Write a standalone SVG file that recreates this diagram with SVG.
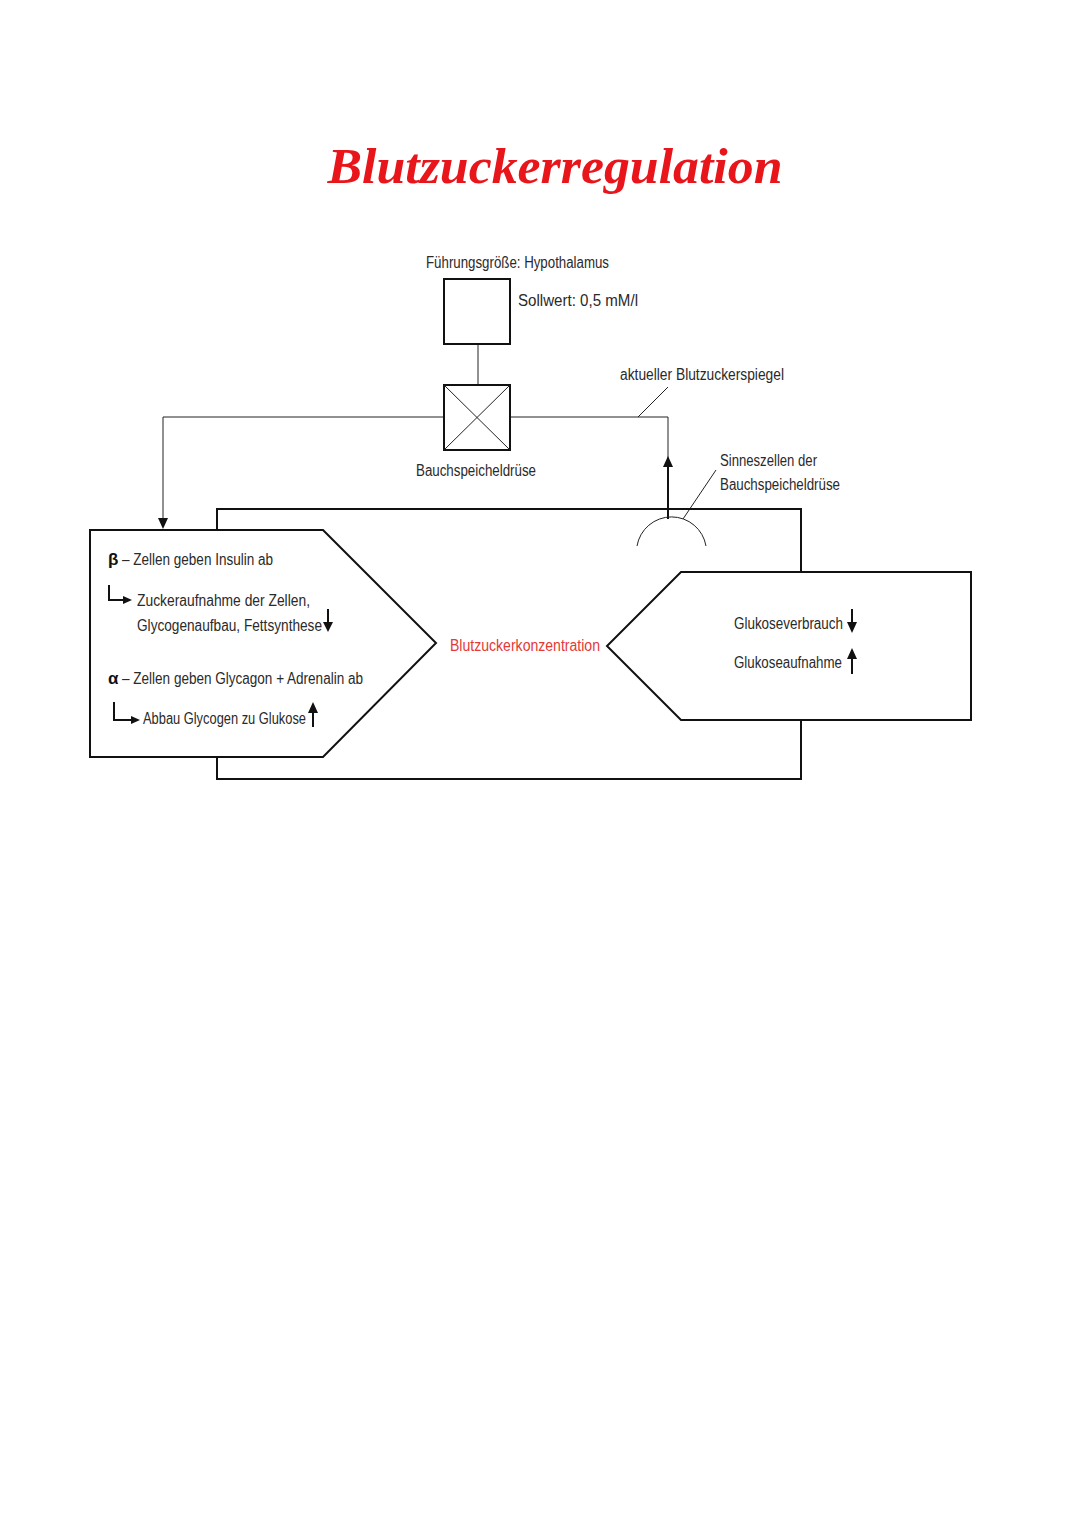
<svg xmlns="http://www.w3.org/2000/svg" width="1080" height="1527" viewBox="0 0 1080 1527">
<style>
.t{font-family:"Liberation Sans","DejaVu Sans",sans-serif;font-size:16px;fill:#2a2a2a}
.g{font-family:"Liberation Sans","DejaVu Sans",sans-serif;font-weight:bold;font-size:17px;fill:#111}
.r{font-family:"Liberation Sans","DejaVu Sans",sans-serif;font-size:16px;fill:#e53935}
.title{font-family:"Liberation Serif","DejaVu Serif",serif;font-size:50px;font-weight:bold;font-style:italic;fill:#e8151b}
.s{fill:none;stroke:#111;stroke-width:2}
.th{fill:none;stroke:#222;stroke-width:1}
.a{fill:none;stroke:#111;stroke-width:2}
</style>
<rect width="1080" height="1527" fill="#fff"/>
<text class="title" x="555" y="183" text-anchor="middle" textLength="455" lengthAdjust="spacingAndGlyphs">Blutzuckerregulation</text>

<g id="connectors">
<line class="th" x1="478" y1="344" x2="478" y2="385"/>
<polyline class="th" points="444,417 163,417 163,520"/>
<path d="M158,518 L163,529 L168,518 z" fill="#111"/>
<polyline class="th" points="510,417 668,417 668,466"/>
<line x1="668" y1="466" x2="668" y2="519" stroke="#111" stroke-width="2"/>
<path d="M663,467 L668,456 L673,467 z" fill="#111"/>
<line class="th" x1="638" y1="417" x2="668" y2="387"/>
<line class="th" x1="683" y1="519" x2="716" y2="470"/>
<polyline class="s" points="217,530 217,509 801,509 801,572"/>
<polyline class="s" points="217,757 217,779 801,779 801,720"/>
</g>

<g id="hypothalamus">
<rect class="s" x="444" y="279" width="66" height="65"/>
<text class="t" x="426" y="268" textLength="183" lengthAdjust="spacingAndGlyphs">Führungsgröße: Hypothalamus</text>
<text class="t" x="518" y="306" textLength="120" lengthAdjust="spacingAndGlyphs">Sollwert: 0,5 mM/l</text>
</g>

<g id="bauchspeicheldruese">
<rect class="s" x="444" y="385" width="66" height="65"/>
<line class="th" x1="444" y1="385" x2="510" y2="450"/>
<line class="th" x1="510" y1="385" x2="444" y2="450"/>
<text class="t" x="416" y="476" textLength="120" lengthAdjust="spacingAndGlyphs">Bauchspeicheldrüse</text>
</g>

<g id="aktuell">
<text class="t" x="620" y="380" textLength="164" lengthAdjust="spacingAndGlyphs">aktueller Blutzuckerspiegel</text>
</g>

<g id="sinneszellen">
<path class="th" d="M637,546 A35,35 0 0 1 706,546"/>
<text class="t" x="720" y="466" textLength="97" lengthAdjust="spacingAndGlyphs">Sinneszellen der</text>
<text class="t" x="720" y="490" textLength="120" lengthAdjust="spacingAndGlyphs">Bauchspeicheldrüse</text>
</g>

<g id="stellglied">
<polygon class="s" fill="#fff" points="90,530 323,530 436,643 323,757 90,757"/>
<text class="g" x="108" y="565">β</text>
<text class="t" x="122" y="565" textLength="151" lengthAdjust="spacingAndGlyphs">– Zellen geben Insulin ab</text>
<polyline class="a" points="109,585 109,600 124,600"/>
<path d="M123,596 L132,600 L123,604 z" fill="#111"/>
<text class="t" x="137" y="606" textLength="173" lengthAdjust="spacingAndGlyphs">Zuckeraufnahme der Zellen,</text>
<text class="t" x="137" y="631" textLength="185" lengthAdjust="spacingAndGlyphs">Glycogenaufbau, Fettsynthese</text>
<line class="a" x1="328" y1="609" x2="328" y2="624"/>
<path d="M323,622 L328,632 L333,622 z" fill="#111"/>
<text class="g" x="108" y="684">α</text>
<text class="t" x="122" y="684" textLength="241" lengthAdjust="spacingAndGlyphs">– Zellen geben Glycagon + Adrenalin ab</text>
<polyline class="a" points="114,702 114,720 132,720"/>
<path d="M131,716 L140,720 L131,724 z" fill="#111"/>
<text class="t" x="143" y="724" textLength="163" lengthAdjust="spacingAndGlyphs">Abbau Glycogen zu Glukose</text>
<line class="a" x1="313" y1="727" x2="313" y2="712"/>
<path d="M308,713 L313,702 L318,713 z" fill="#111"/>
</g>

<g id="regelgroesse">
<text class="r" x="450" y="651" textLength="150" lengthAdjust="spacingAndGlyphs">Blutzuckerkonzentration</text>
</g>

<g id="stoergroesse">
<polygon class="s" fill="#fff" points="681,572 971,572 971,720 681,720 607,646"/>
<text class="t" x="734" y="629" textLength="109" lengthAdjust="spacingAndGlyphs">Glukoseverbrauch</text>
<line class="a" x1="852" y1="609" x2="852" y2="624"/>
<path d="M847,622 L852,633 L857,622 z" fill="#111"/>
<text class="t" x="734" y="668" textLength="108" lengthAdjust="spacingAndGlyphs">Glukoseaufnahme</text>
<line class="a" x1="852" y1="674" x2="852" y2="657"/>
<path d="M847,659 L852,648 L857,659 z" fill="#111"/>
</g>
</svg>
